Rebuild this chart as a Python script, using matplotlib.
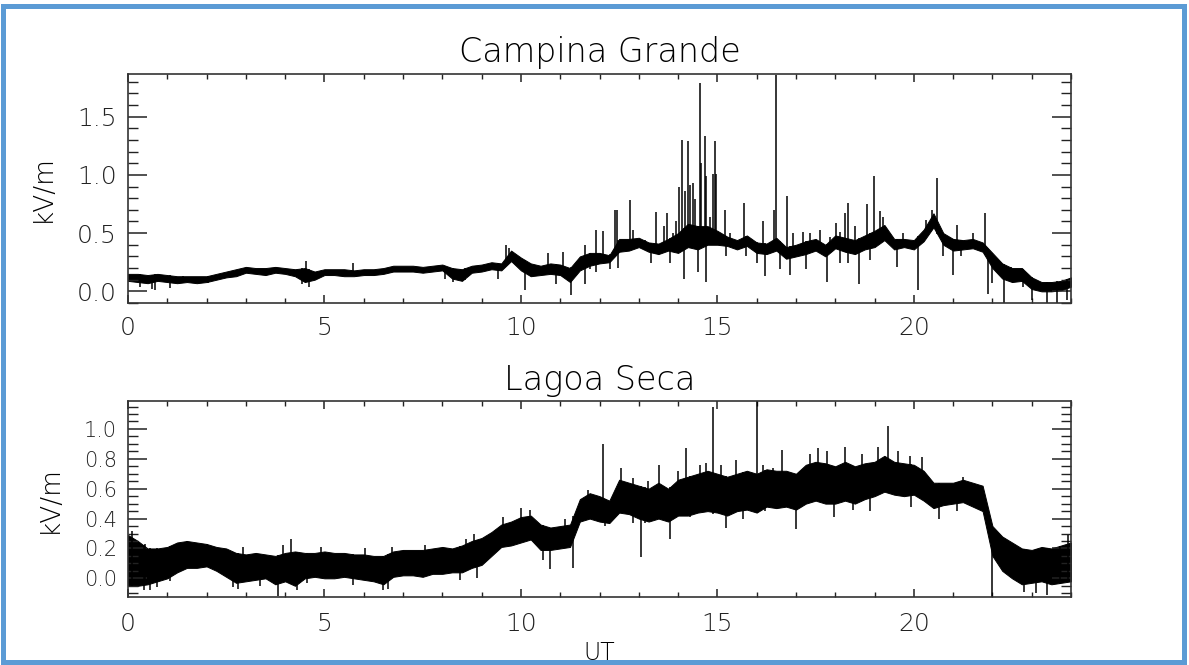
import numpy as np
import matplotlib
matplotlib.use("Agg")
import matplotlib.pyplot as plt
from matplotlib.patches import Rectangle
from matplotlib.ticker import MultipleLocator

plt.rcParams['font.family'] = ['DejaVu Sans']

# sample times (UT hours), every 15 min
hours = np.arange(0, 24.01, 0.25)

# Campina Grande: lower / upper edge of the noisy trace (kV/m)
cg_lo = [0.09, 0.08, 0.07, 0.09, 0.08, 0.07, 0.08, 0.07,
         0.08, 0.10, 0.12, 0.13, 0.16, 0.15, 0.14, 0.16,
         0.15, 0.13, 0.08, 0.10, 0.14, 0.14, 0.13, 0.13,
         0.14, 0.14, 0.15, 0.17, 0.17, 0.17, 0.16, 0.17,
         0.18, 0.11, 0.09, 0.16, 0.17, 0.19, 0.18, 0.26,
         0.18, 0.13, 0.14, 0.15, 0.14, 0.08, 0.18, 0.22,
         0.24, 0.25, 0.34, 0.35, 0.38, 0.34, 0.32, 0.35,
         0.33, 0.38, 0.36, 0.40, 0.40, 0.39, 0.36, 0.39,
         0.33, 0.32, 0.35, 0.28, 0.30, 0.32, 0.35, 0.30,
         0.37, 0.34, 0.32, 0.36, 0.38, 0.44, 0.36, 0.38,
         0.36, 0.43, 0.55, 0.40, 0.35, 0.36, 0.37, 0.34,
         0.20, 0.11, 0.08, 0.09, 0.02, 0.00, 0.00, 0.01,
         0.04]
cg_hi = [0.15, 0.15, 0.14, 0.15, 0.14, 0.13, 0.13, 0.13,
         0.13, 0.15, 0.17, 0.19, 0.21, 0.20, 0.20, 0.21,
         0.20, 0.19, 0.20, 0.17, 0.19, 0.19, 0.19, 0.18,
         0.19, 0.19, 0.20, 0.22, 0.22, 0.22, 0.21, 0.22,
         0.23, 0.20, 0.19, 0.22, 0.23, 0.25, 0.24, 0.35,
         0.29, 0.24, 0.22, 0.24, 0.23, 0.20, 0.30, 0.33,
         0.33, 0.31, 0.45, 0.45, 0.46, 0.42, 0.41, 0.45,
         0.50, 0.58, 0.56, 0.56, 0.52, 0.47, 0.44, 0.48,
         0.42, 0.41, 0.46, 0.38, 0.40, 0.43, 0.45, 0.40,
         0.48, 0.46, 0.44, 0.48, 0.52, 0.57, 0.45, 0.45,
         0.44, 0.53, 0.67, 0.50, 0.45, 0.44, 0.45, 0.42,
         0.33, 0.24, 0.20, 0.20, 0.12, 0.08, 0.08, 0.09,
         0.12]
# isolated spikes and dips
cg_spike_t = [4.53, 5.73, 9.63, 9.7, 10.7, 11.08, 11.63, 11.92, 12.1, 12.39, 12.45,
              12.77, 12.86, 13.15, 13.45, 13.64, 13.72, 13.88, 13.94, 14.03, 14.1,
              14.18, 14.24, 14.3, 14.38, 14.43, 14.55, 14.58, 14.68, 14.72, 14.82,
              14.9, 14.94, 14.97, 15.2, 15.32, 15.69, 16.16, 16.44, 16.48, 16.77,
              16.93, 17.18, 17.35, 17.6, 17.86, 18.03, 18.12, 18.25, 18.33, 18.5,
              18.8, 18.99, 19.13, 19.22, 19.73, 20.32, 20.45, 20.6, 21.1, 21.51,
              21.8, 22.48]
cg_spike_v = [0.26, 0.24, 0.40, 0.37, 0.33, 0.34, 0.40, 0.53, 0.52, 0.70, 0.70,
              0.78, 0.53, 0.44, 0.68, 0.56, 0.67, 0.50, 0.60, 0.90, 1.30,
              0.86, 1.29, 0.91, 0.93, 0.79, 1.79, 1.10, 1.33, 0.99, 0.64,
              1.01, 1.29, 1.01, 0.70, 0.50, 0.76, 0.60, 0.70, 1.86, 0.82,
              0.50, 0.51, 0.50, 0.53, 0.47, 0.59, 0.51, 0.67, 0.76, 0.56,
              0.75, 0.99, 0.69, 0.64, 0.50, 0.61, 0.70, 0.97, 0.57, 0.50,
              0.67, 0.21]
cg_dip_t = [0.3, 0.6, 0.69, 1.07, 1.41, 2.04, 4.42, 4.6, 8.07, 8.28, 8.57, 9.42,
            10.1, 10.9, 11.27, 11.63, 11.76, 11.9, 12.27, 12.48, 13.3, 13.79,
            14.15, 14.51, 14.72, 15.23, 15.74, 16.0, 16.2, 16.6, 16.85, 17.26,
            17.78, 18.12, 18.33, 18.6, 18.88, 19.56, 20.1, 20.75, 21.0, 21.2,
            21.9, 22.0, 22.3, 22.78, 23.0, 23.4, 23.65, 23.9]
cg_dip_v = [0.04, 0.02, 0.01, 0.03, 0.08, 0.07, 0.06, 0.04, 0.11, 0.08, 0.10, 0.11,
            0.01, 0.06, -0.03, 0.06, 0.19, 0.17, 0.19, 0.20, 0.24, 0.24,
            0.11, 0.17, 0.08, 0.30, 0.30, 0.24, 0.13, 0.19, 0.14, 0.19,
            0.08, 0.24, 0.24, 0.06, 0.27, 0.21, 0.01, 0.30, 0.14, 0.30,
            -0.02, 0.07, -0.10, 0.04, -0.07, -0.10, -0.10, -0.07]

# Lagoa Seca
ls_lo = [-0.05, -0.05, -0.04, -0.02, 0.00, 0.04, 0.07, 0.07,
         0.08, 0.05, 0.01, -0.03, -0.02, -0.01, 0.00, -0.04,
         -0.02, -0.05, 0.00, 0.01, 0.00, 0.00, 0.01, 0.00,
         -0.01, -0.02, -0.04, 0.01, 0.02, 0.02, 0.01, 0.03,
         0.03, 0.04, 0.04, 0.07, 0.09, 0.15, 0.21, 0.22,
         0.24, 0.26, 0.19, 0.19, 0.20, 0.21, 0.38, 0.40,
         0.38, 0.37, 0.44, 0.43, 0.40, 0.38, 0.40, 0.38,
         0.42, 0.42, 0.44, 0.45, 0.44, 0.42, 0.45, 0.46,
         0.44, 0.48, 0.47, 0.48, 0.46, 0.50, 0.52, 0.50,
         0.50, 0.52, 0.50, 0.53, 0.55, 0.58, 0.56, 0.55,
         0.56, 0.52, 0.47, 0.49, 0.50, 0.51, 0.48, 0.45,
         0.15, 0.05, 0.00, -0.04, -0.03, -0.02, -0.04, -0.03,
         -0.02]
ls_hi = [0.29, 0.25, 0.20, 0.20, 0.21, 0.24, 0.25, 0.24,
         0.23, 0.21, 0.20, 0.17, 0.16, 0.17, 0.16, 0.15,
         0.17, 0.18, 0.17, 0.17, 0.18, 0.17, 0.17, 0.16,
         0.16, 0.15, 0.15, 0.18, 0.19, 0.19, 0.19, 0.20,
         0.21, 0.20, 0.22, 0.25, 0.27, 0.31, 0.36, 0.38,
         0.41, 0.42, 0.36, 0.34, 0.35, 0.36, 0.53, 0.57,
         0.55, 0.52, 0.66, 0.64, 0.62, 0.60, 0.64, 0.60,
         0.66, 0.68, 0.70, 0.72, 0.70, 0.68, 0.70, 0.72,
         0.70, 0.73, 0.72, 0.72, 0.70, 0.76, 0.78, 0.77,
         0.75, 0.78, 0.75, 0.77, 0.78, 0.82, 0.78, 0.77,
         0.76, 0.72, 0.64, 0.64, 0.64, 0.66, 0.64, 0.62,
         0.35, 0.28, 0.24, 0.20, 0.19, 0.21, 0.20, 0.22,
         0.24]
ls_spike_t = [0.1, 0.43, 1.5, 2.0, 2.93, 3.95, 4.14, 4.9, 6.03, 6.71, 7.56, 8.6,
              8.8, 9.55, 10.0, 10.23, 11.12, 11.71, 12.1, 12.55, 12.86, 13.24,
              13.52, 13.99, 14.2, 14.55, 14.72, 14.9, 15.1, 15.48, 16.0, 16.15,
              16.42, 16.65, 17.35, 17.55, 17.8, 18.25, 18.67, 19.1, 19.35, 19.6,
              19.9, 20.2, 21.25, 23.92]
ls_spike_v = [0.32, 0.23, 0.25, 0.23, 0.21, 0.22, 0.26, 0.21, 0.20, 0.21, 0.22, 0.26,
              0.30, 0.41, 0.47, 0.46, 0.40, 0.59, 0.90, 0.74, 0.67, 0.65,
              0.76, 0.72, 0.87, 0.76, 0.77, 1.15, 0.76, 0.79, 1.19, 0.76,
              0.74, 0.86, 0.83, 0.87, 0.85, 0.88, 0.83, 0.88, 1.02, 0.85,
              0.82, 0.81, 0.68, 0.29]
ls_dip_t = [0.4, 0.56, 0.73, 1.07, 2.68, 2.8, 3.36, 3.83, 4.3, 4.55, 5.73, 6.5,
            6.62, 8.45, 8.87, 10.55, 10.75, 11.33, 12.14, 12.84, 13.05, 13.15,
            13.8, 14.3, 14.9, 15.22, 15.66, 16.2, 17.0, 17.96, 18.46, 18.88,
            19.94, 20.65, 21.09, 22.0, 22.8, 23.12, 23.4, 23.71]
ls_dip_v = [-0.08, -0.08, -0.06, -0.02, -0.06, -0.07, -0.05, -0.12, -0.08, -0.03, -0.045, -0.08,
            -0.07, -0.01, 0.0, 0.12, 0.06, 0.07, 0.35, 0.37, 0.14, 0.37,
            0.26, 0.41, 0.43, 0.34, 0.40, 0.45, 0.33, 0.41, 0.46, 0.45,
            0.48, 0.40, 0.45, -0.125, -0.09, -0.10, -0.11, -0.04]

W, H = 1189, 665
fig = plt.figure(figsize=(W / 100, H / 100), dpi=100)

# blue frame round the picture
fig.patches.append(Rectangle((3 / W, 3 / H), 1181 / W, 656 / H, transform=fig.transFigure,
                             fill=False, ec='#5B9BD5', lw=3.6))

fw = 'light'
left, right = 128 / W, 1071 / W


def draw_panel(rect, lo, hi, sp_t, sp_v, dp_t, dp_v, ylim, major, minor, ylab_size, xlab_pad):
    ax = fig.add_axes(rect)
    lo = np.array(lo)
    hi = np.array(hi)
    ax.fill_between(hours, lo, hi, color='k', lw=0.7)
    ax.vlines(sp_t, np.interp(sp_t, hours, lo), sp_v, color='k', lw=1.1)
    ax.vlines(dp_t, dp_v, np.interp(dp_t, hours, hi), color='k', lw=1.1)
    ax.set_xlim(0, 24)
    ax.set_ylim(*ylim)
    ax.xaxis.set_major_locator(MultipleLocator(5))
    ax.xaxis.set_minor_locator(MultipleLocator(1))
    ax.yaxis.set_major_locator(MultipleLocator(major))
    ax.yaxis.set_minor_locator(MultipleLocator(minor))
    ax.yaxis.set_major_formatter(plt.FormatStrFormatter('%.1f'))
    ax.tick_params(which='both', direction='in', top=True, right=True, colors='#222222')
    ax.tick_params(axis='y', which='major', length=13.5, width=1.1, labelsize=ylab_size, pad=8)
    ax.tick_params(axis='y', which='minor', length=7, width=1.0)
    ax.tick_params(axis='x', which='major', length=6, width=1.1, labelsize=18, pad=xlab_pad)
    ax.tick_params(axis='x', which='minor', length=3.6, width=1.0)
    for lab in ax.get_xticklabels() + ax.get_yticklabels():
        lab.set_fontweight(fw)
    for s in ax.spines.values():
        s.set_linewidth(1.2)
        s.set_color('#333333')
    ax.set_ylabel('kV/m', fontsize=19, fontweight=fw, labelpad=16)
    return ax


ax1 = draw_panel([left, 1 - 303 / H, right - left, 229 / H], cg_lo, cg_hi,
                 cg_spike_t, cg_spike_v, cg_dip_t, cg_dip_v,
                 (-0.1, 1.866), 0.5, 0.1, 18, 9)
ax2 = draw_panel([left, 1 - 597 / H, right - left, 196 / H], ls_lo, ls_hi,
                 ls_spike_t, ls_spike_v, ls_dip_t, ls_dip_v,
                 (-0.125, 1.187), 0.2, 0.05, 15, 11)

cx = (left + right) / 2
fig.text(cx, 1 - 62 / H, 'Campina Grande', ha='center', va='baseline', fontsize=24, fontweight=fw)
fig.text(cx, 1 - 390 / H, 'Lagoa Seca', ha='center', va='baseline', fontsize=24, fontweight=fw)
fig.text(cx, 1 - 660 / H, 'UT', ha='center', va='baseline', fontsize=17, fontweight=fw)

fig.savefig('out.png', dpi=100)
